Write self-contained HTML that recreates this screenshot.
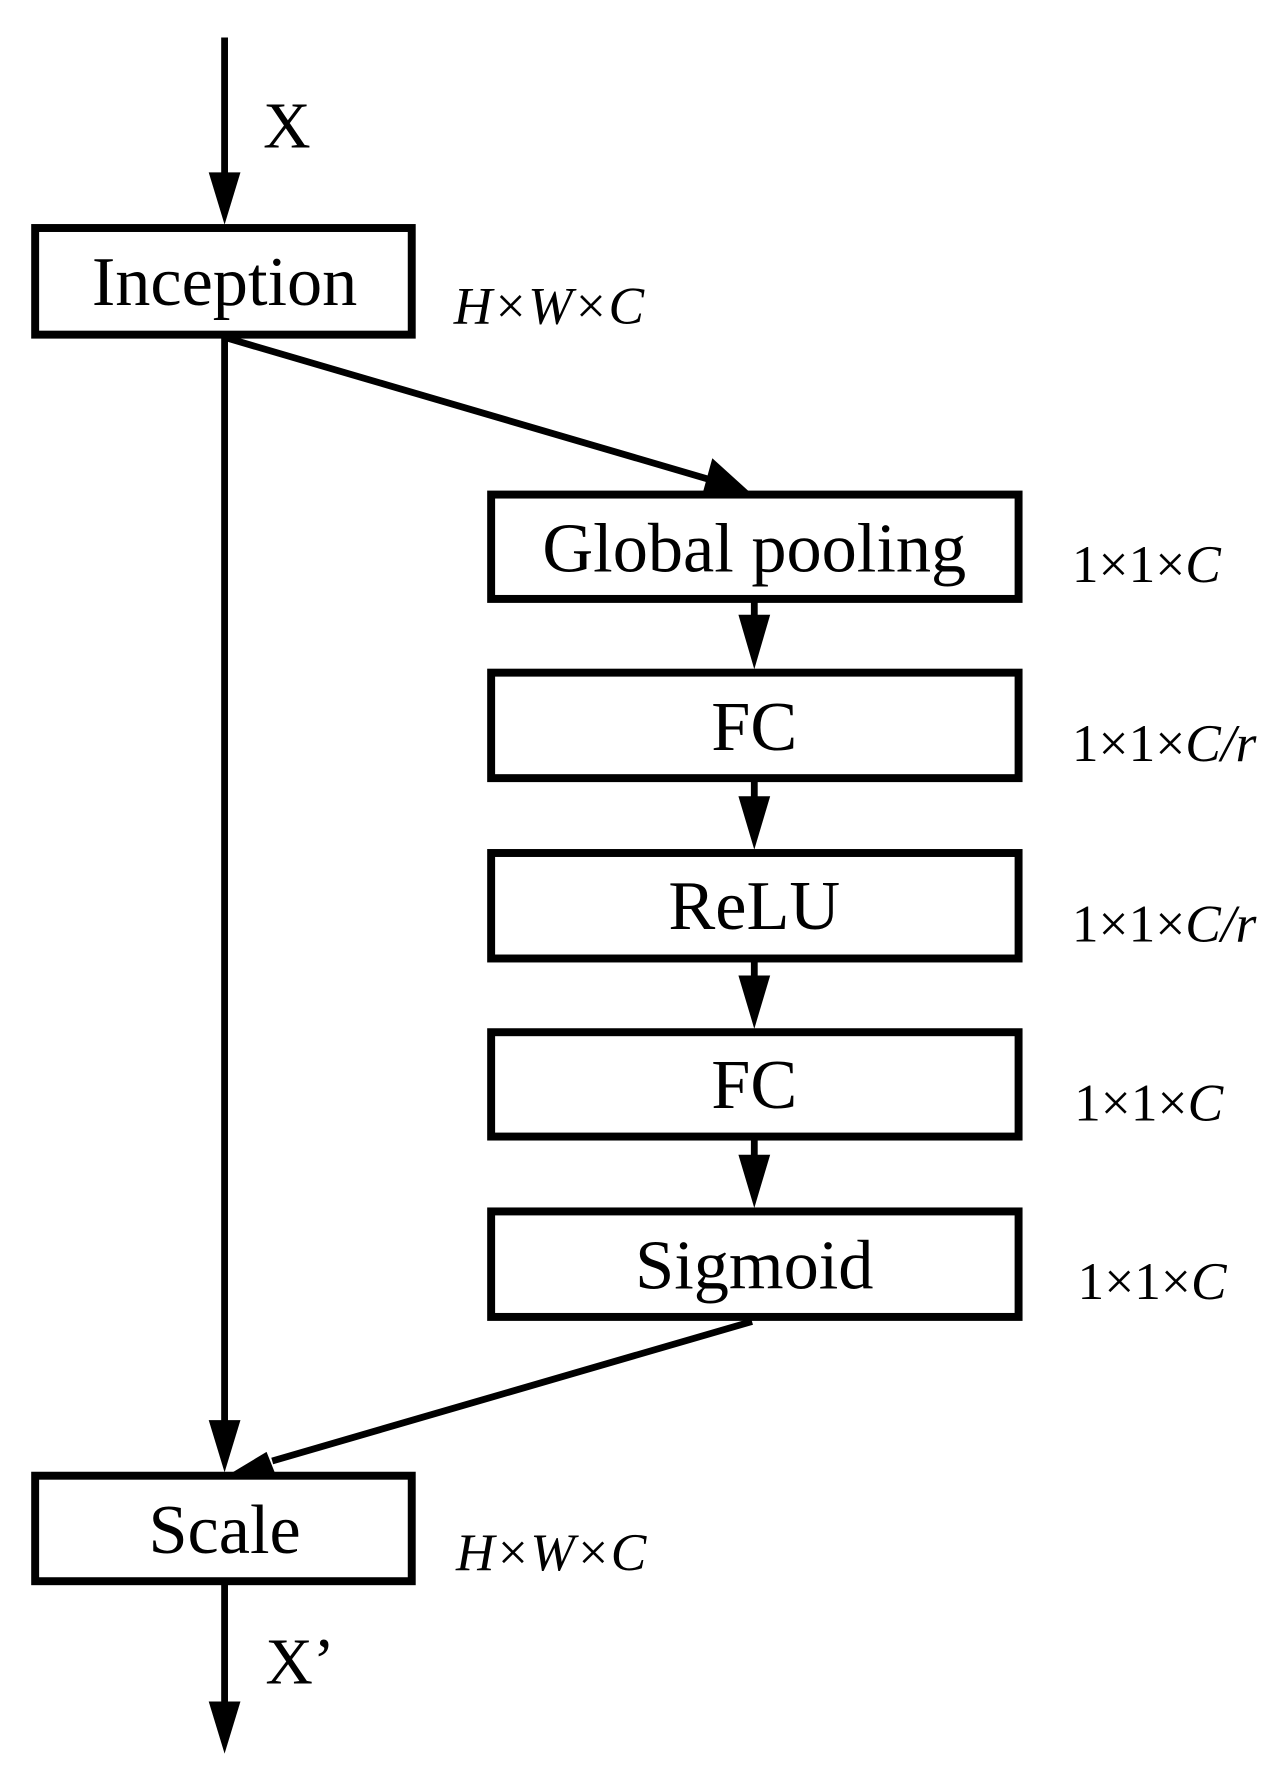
<!DOCTYPE html>
<html><head><meta charset="utf-8"><style>
html,body{margin:0;padding:0;background:#fff;}
svg{display:block;}
text{font-family:"Liberation Serif",serif;fill:#000;}
</style></head><body>
<svg width="1284" height="1782" viewBox="0 0 1132 1571" xmlns="http://www.w3.org/2000/svg">
<rect width="1132" height="1571" fill="#fff"/>
<g stroke="#000" stroke-width="6" fill="none">
<line x1="198" y1="33" x2="198" y2="160"/>
<line x1="198" y1="297" x2="198" y2="1260"/>
<line x1="200" y1="298" x2="630" y2="424"/>
<line x1="663" y1="1165" x2="240" y2="1288"/>
<line x1="198" y1="1397" x2="198" y2="1505"/>
<line x1="665" y1="530" x2="665" y2="550"/>
<line x1="665" y1="689" x2="665" y2="710"/>
<line x1="665" y1="848" x2="665" y2="868"/>
<line x1="665" y1="1005" x2="665" y2="1026"/>
</g>
<g stroke="#000" stroke-width="7" fill="#fff">
<rect x="31" y="201" width="332" height="94"/>
<rect x="433" y="436" width="465" height="92"/>
<rect x="433" y="593" width="465" height="93"/>
<rect x="433" y="752" width="465" height="93"/>
<rect x="433" y="910" width="465" height="92"/>
<rect x="433" y="1068" width="465" height="93"/>
<rect x="31" y="1301" width="332" height="93"/>
</g>
<g fill="#000">
<polygon points="184,152 212,152 198,198"/>
<polygon points="184,1252 212,1252 198,1298"/>
<polygon points="184,1500 212,1500 198,1546"/>
<polygon points="628,404 660,433 620,433"/>
<polygon points="235,1280 205,1298 243,1300"/>
<polygon points="651,542 679,542 665,590"/>
<polygon points="651,702 679,702 665,749"/>
<polygon points="651,860 679,860 665,907"/>
<polygon points="651,1018 679,1018 665,1065"/>
</g>
<g font-size="62" text-anchor="middle">
<text x="198" y="269">Inception</text>
<text x="665" y="504">Global pooling</text>
<text x="665" y="661">FC</text>
<text x="665" y="819">ReLU</text>
<text x="665" y="977">FC</text>
<text x="665" y="1136">Sigmoid</text>
<text x="198" y="1369">Scale</text>
</g>
<text x="232" y="130" font-size="58">X</text>
<text x="234" y="1484" font-size="58">X’</text>
<g font-size="47">
<text x="400" y="285" font-style="italic">H×W×C</text>
<text x="402" y="1384" font-style="italic">H×W×C</text>
<text x="945" y="513">1×1×<tspan font-style="italic">C</tspan></text>
<text x="945" y="671">1×1×<tspan font-style="italic">C/r</tspan></text>
<text x="945" y="830">1×1×<tspan font-style="italic">C/r</tspan></text>
<text x="947" y="988">1×1×<tspan font-style="italic">C</tspan></text>
<text x="950" y="1145">1×1×<tspan font-style="italic">C</tspan></text>
</g>
</svg>
</body></html>
